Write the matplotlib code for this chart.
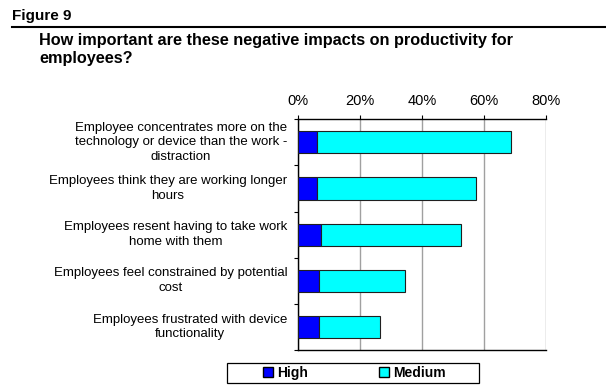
import matplotlib
matplotlib.use("Agg")
import matplotlib.pyplot as plt
from matplotlib.patches import Patch, Rectangle
from matplotlib.lines import Line2D

plt.rcParams['font.family'] = ['Liberation Sans', 'DejaVu Sans']

categories = [
    "Employee concentrates more on the\ntechnology or device than the work -\ndistraction",
    "Employees think they are working longer\nhours",
    "Employees resent having to take work\nhome with them",
    "Employees feel constrained by potential\ncost",
    "Employees frustrated with device\nfunctionality",
]
high = [6.1, 6.1, 7.4, 7.0, 7.0]
medium = [62.7, 51.3, 45.3, 27.7, 19.6]
xticks = [0, 20, 40, 60, 80]
xtick_labels = ["0%", "20%", "40%", "60%", "80%"]

W, H = 606, 385
fig = plt.figure(figsize=(W / 100, H / 100), dpi=100)


def fx(px):
    return px / W


def fy(py):
    return 1 - py / H


# plot area in pixel coordinates
x0, x1 = 297.7, 546.0
y0, y1 = 119.3, 350.0
ax = fig.add_axes([fx(x0), fy(y1), (x1 - x0) / W, (y1 - y0) / H])

n = len(categories)
pos = list(range(n))
ax.barh(pos, high, height=0.48, color="#0000ff", edgecolor="#202020", linewidth=0.8, zorder=3)
ax.barh(pos, medium, left=high, height=0.48, color="#00ffff", edgecolor="#202020", linewidth=0.8, zorder=3)

ax.set_xlim(0, 80)
ax.set_ylim(n - 0.5, -0.5)
ax.xaxis.tick_top()
ax.set_xticks(xticks)
ax.set_xticklabels(xtick_labels, fontsize=10.5)
ax.tick_params(axis="x", direction="out", length=3, width=0.8, pad=5, colors="black")
ax.xaxis.grid(True, color="#a0a0a0", linewidth=1.0, zorder=0)

# category boundaries as y ticks, labels placed between them
ax.set_yticks([i - 0.5 for i in range(n + 1)])
ax.set_yticklabels([])
ax.tick_params(axis="y", direction="out", length=3, width=0.8)
for i, lab in enumerate(categories):
    ax.text(-3.4, i, lab, ha="right", va="center", multialignment="center",
            fontsize=9.5, linespacing=1.3, transform=ax.transData)

for side in ("top", "left", "bottom"):
    ax.spines[side].set_color("black")
    ax.spines[side].set_linewidth(1.0)
ax.spines["right"].set_visible(False)

# headings
fig.text(fx(12), fy(20), "Figure 9", fontsize=11, fontweight="bold", va="baseline", ha="left")
fig.add_artist(Line2D([fx(12), 1.0], [fy(27), fy(27)], color="black", linewidth=1.5))
fig.text(fx(39), fy(45.5), "How important are these negative impacts on productivity for",
         fontsize=11.7, fontweight="bold", va="baseline", ha="left")
fig.text(fx(39), fy(62.5), "employees?",
         fontsize=11.7, fontweight="bold", va="baseline", ha="left")

# legend with a separate rectangular frame
handles = [Patch(facecolor="#0000ff", edgecolor="black", label="High"),
           Patch(facecolor="#00ffff", edgecolor="black", label="Medium")]
fig.legend(handles=handles, loc="center", bbox_to_anchor=(fx(354), fy(373)),
           ncol=2, frameon=False,
           prop={"weight": "bold", "size": 10}, handlelength=0.72, handleheight=0.72,
           columnspacing=5.1, handletextpad=0.3, borderpad=0.1)
fig.add_artist(Rectangle((fx(227), fy(383.3)), (479 - 227) / W, (383.3 - 362.7) / H,
                         transform=fig.transFigure, facecolor="none",
                         edgecolor="black", linewidth=0.9))

fig.savefig("out.png", dpi=100)
